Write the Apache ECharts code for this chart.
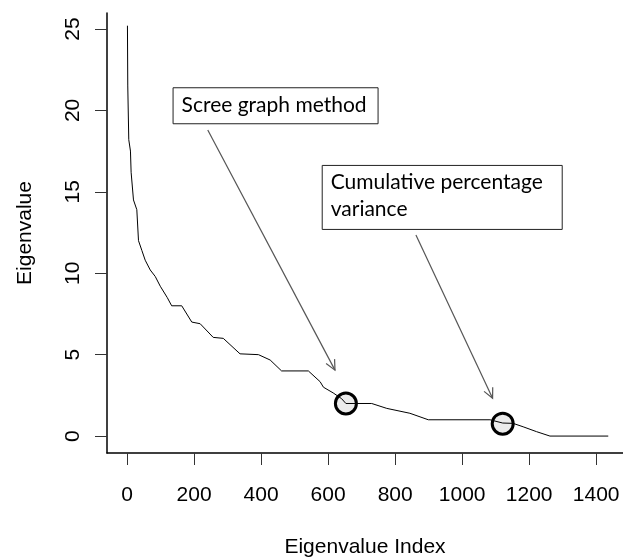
<!DOCTYPE html>
<html>
<head>
<meta charset="utf-8">
<script src="https://cdn.jsdelivr.net/npm/echarts@6/dist/echarts.min.js"></script>
<style>
  html, body { margin: 0; padding: 0; background: #fff; }
  #chart { width: 623px; height: 559px; }
</style>
</head>
<body>
<div id="chart"></div>
<script>
// eigenvalue curve (index, value)
const eigIndex = [1, 2, 5, 10, 12, 19, 29, 34, 44, 54, 69, 84, 99, 120, 133, 163, 193, 218, 257, 287,
  337, 392, 427, 461, 541, 576, 586, 615, 640, 653, 730, 775, 844, 899, 1083, 1121, 1152, 1182, 1222, 1262, 1436];
const eigValue = [25.2, 21.5, 18.2, 17.5, 16.2, 14.5, 13.9, 12.0, 11.4, 10.8, 10.2, 9.8, 9.2, 8.5, 8.0, 8.0, 7.0, 6.9, 6.06, 6.0,
  5.05, 5.0, 4.67, 4.0, 4.0, 3.34, 3.0, 2.65, 2.3, 2.0, 2.0, 1.7, 1.4, 1.0, 1.0, 0.8, 0.78, 0.57, 0.27, 0, 0];

// circled cut-off points
const cutIndex = [653, 1121];
const cutValue = [2.0, 0.76];

// tick labels
const xTicks = [0, 200, 400, 600, 800, 1000, 1200, 1400];
const yTicks = [0, 5, 10, 15, 20, 25];

// annotations: box top-left (data coords), text, arrow from -> to
const noteText = ['Scree graph method', 'Cumulative percentage\nvariance'];
const noteX = [135.7, 580.8];
const noteY = [21.42, 16.65];
const arrowFromX = [240.7, 862];
const arrowFromY = [18.8, 12.35];
const arrowToX = [620.4, 1090.8];
const arrowToY = [4.05, 2.32];

const chart = echarts.init(document.getElementById('chart'));

const axisFont = { fontFamily: '"Liberation Sans", Arial, sans-serif', fontSize: 21, color: '#000' };

chart.setOption({
  animation: false,
  grid: { left: 107, right: 0, top: 13, bottom: 106, containLabel: false, outerBoundsMode: 'none' },
  xAxis: {
    type: 'value',
    min: -60,
    max: 1480,
    name: 'Eigenvalue Index',
    nameLocation: 'middle',
    nameGap: 84,
    nameTextStyle: axisFont,
    splitLine: { show: false },
    axisLine: { onZero: false, lineStyle: { color: '#000', width: 1.5 } },
    axisTick: { customValues: xTicks, length: 12, lineStyle: { color: '#333' } },
    axisLabel: { customValues: xTicks, margin: 32, formatter: v => String(v), ...axisFont }
  },
  yAxis: {
    type: 'value',
    min: -1.04,
    max: 25.98,
    name: 'Eigenvalue',
    nameLocation: 'middle',
    nameGap: 71,
    nameTextStyle: axisFont,
    splitLine: { show: false },
    axisLine: { show: true, onZero: false, lineStyle: { color: '#000', width: 1.5 } },
    axisTick: { show: true, customValues: yTicks, length: 12, lineStyle: { color: '#333' } },
    axisLabel: { customValues: yTicks, rotate: 90, margin: 23, formatter: v => String(v), ...axisFont }
  },
  series: [
    {
      type: 'scatter',
      z: 2,
      symbol: 'circle',
      symbolSize: 21,
      itemStyle: { color: '#ebebeb', opacity: 1, borderColor: '#000', borderWidth: 3 },
      data: cutIndex.map((x, i) => [x, cutValue[i]])
    },
    {
      type: 'line',
      z: 3,
      showSymbol: false,
      lineStyle: { color: '#000', width: 1 },
      data: eigIndex.map((x, i) => [x, eigValue[i]])
    },
    {
      // arrows
      type: 'custom',
      z: 4,
      data: arrowFromX.map((x, i) => [x, arrowFromY[i], arrowToX[i], arrowToY[i]]),
      renderItem: function (params, api) {
        const a = api.coord([api.value(0), api.value(1)]);
        const b = api.coord([api.value(2), api.value(3)]);
        const ang = Math.atan2(b[1] - a[1], b[0] - a[0]);
        const len = 11, spread = 0.45;
        const h1 = [b[0] - len * Math.cos(ang - spread), b[1] - len * Math.sin(ang - spread)];
        const h2 = [b[0] - len * Math.cos(ang + spread), b[1] - len * Math.sin(ang + spread)];
        const st = { stroke: '#555', lineWidth: 1.2, fill: null };
        return {
          type: 'group',
          children: [
            { type: 'line', shape: { x1: a[0], y1: a[1], x2: b[0], y2: b[1] }, style: st },
            { type: 'polyline', shape: { points: [h1, b, h2] }, style: st }
          ]
        };
      }
    },
    {
      // annotation boxes
      type: 'custom',
      z: 5,
      data: noteX.map((x, i) => [x, noteY[i], i]),
      renderItem: function (params, api) {
        const p = api.coord([api.value(0), api.value(1)]);
        const i = api.value(2);
        const w = i === 0 ? 205 : 240;
        const h = i === 0 ? 36 : 64;
        return {
          type: 'group',
          children: [
            {
              type: 'rect',
              shape: { x: p[0] + 0.5, y: p[1] + 0.5, width: w, height: h },
              style: { fill: '#fff', stroke: '#222', lineWidth: 1 }
            },
            {
              type: 'text',
              style: {
                x: p[0] + 9,
                y: p[1] + 4,
                text: noteText[i],
                fontFamily: 'Lato',
                fontSize: 21,
                lineHeight: 27,
                fill: '#000',
                textVerticalAlign: 'top'
              }
            }
          ]
        };
      }
    }
  ]
});
</script>
</body>
</html>
